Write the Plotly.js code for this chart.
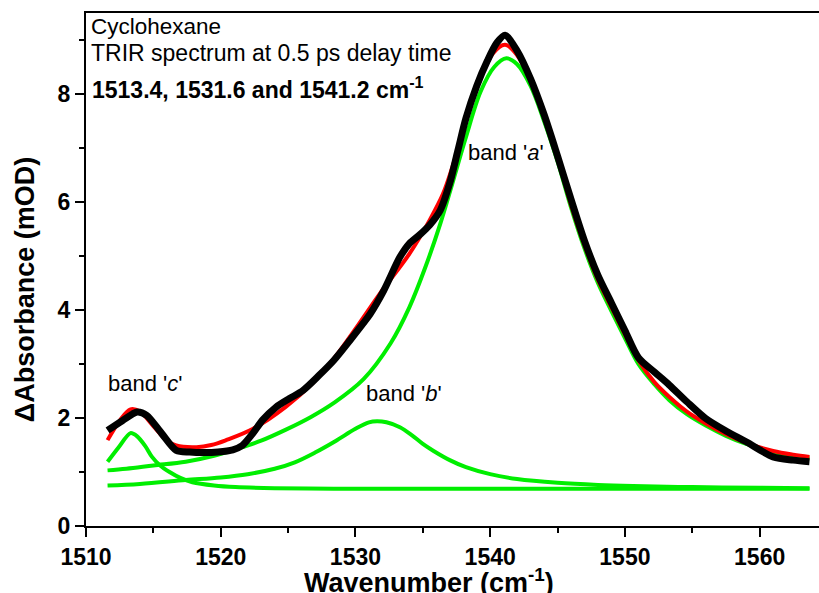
<!DOCTYPE html>
<html>
<head>
<meta charset="utf-8">
<script src="https://cdn.plot.ly/plotly-3.0.1.min.js"></script>
<style>
  html, body { margin: 0; padding: 0; overflow: hidden; background: #fff; }
  #chart { width: 840px; height: 593px; }
</style>
</head>
<body>
<div id="chart"></div>
<script>
// ---- Data ----
// Measured TRIR spectrum (black)
const dataX = [1511.6, 1512.7, 1513.8, 1514.5, 1515.6, 1516.7, 1517.7, 1518.7, 1519.8, 1520.9, 1521.6, 1522.4, 1523.1, 1524.1, 1525.1, 1526.1, 1527.3, 1528.4, 1529.6, 1530.6, 1531.1, 1532.1, 1533.3, 1534.0, 1534.8, 1535.5, 1536.3, 1537.0, 1537.6, 1538.2, 1539.0, 1539.8, 1540.5, 1541.1, 1542.0, 1543.0, 1544.0, 1545.0, 1546.0, 1547.0, 1548.0, 1549.0, 1550.0, 1551.0, 1552.2, 1553.3, 1554.6, 1556.0, 1557.5, 1559.0, 1561.0, 1562.5, 1563.7];
const dataY = [1.77, 1.95, 2.11, 2.05, 1.72, 1.40, 1.37, 1.36, 1.37, 1.41, 1.49, 1.72, 1.96, 2.20, 2.36, 2.51, 2.79, 3.07, 3.44, 3.76, 3.93, 4.36, 4.98, 5.23, 5.40, 5.57, 5.85, 6.35, 6.95, 7.55, 8.15, 8.62, 8.95, 9.09, 8.80, 8.28, 7.62, 6.85, 6.05, 5.28, 4.64, 4.13, 3.62, 3.12, 2.85, 2.61, 2.30, 1.99, 1.76, 1.56, 1.28, 1.22, 1.19];

// Total fit (red)
const fitX = [1511.6, 1512.5, 1513.3, 1514.0, 1515.0, 1516.0, 1516.7, 1518.2, 1519.3, 1520.4, 1522.4, 1524.8, 1526.8, 1528.4, 1530.0, 1531.8, 1534.0, 1535.5, 1536.5, 1537.2, 1538.2, 1539.2, 1540.2, 1541.1, 1542.0, 1543.0, 1544.0, 1545.0, 1546.0, 1547.0, 1548.0, 1549.0, 1550.0, 1551.0, 1552.2, 1553.3, 1554.6, 1556.0, 1557.5, 1559.0, 1561.0, 1562.5, 1563.7];
const fitY = [1.59, 1.95, 2.16, 2.12, 1.85, 1.58, 1.49, 1.46, 1.50, 1.59, 1.80, 2.20, 2.64, 3.10, 3.65, 4.30, 5.04, 5.66, 6.15, 6.65, 7.50, 8.25, 8.75, 8.91, 8.72, 8.25, 7.60, 6.82, 5.95, 5.20, 4.56, 4.05, 3.55, 3.07, 2.66, 2.39, 2.12, 1.90, 1.70, 1.54, 1.39, 1.32, 1.28];

// Band 'a' (green, 1541.2)
const bandAX = [1511.6, 1513.0, 1515.0, 1517.4, 1519.5, 1521.1, 1523.0, 1524.8, 1526.7, 1528.4, 1530.6, 1532.6, 1534.0, 1535.2, 1536.3, 1537.2, 1538.2, 1539.3, 1540.3, 1541.2, 1542.0, 1543.0, 1544.0, 1545.0, 1546.0, 1547.0, 1548.0, 1549.0, 1550.0, 1551.0, 1552.2, 1553.3, 1554.6, 1556.0, 1557.5, 1559.0, 1561.0, 1562.5, 1563.7];
const bandAY = [1.03, 1.06, 1.12, 1.19, 1.30, 1.42, 1.58, 1.78, 2.02, 2.28, 2.72, 3.38, 4.05, 4.80, 5.60, 6.35, 7.20, 8.05, 8.50, 8.66, 8.55, 8.15, 7.50, 6.75, 5.90, 5.14, 4.50, 3.98, 3.48, 3.00, 2.62, 2.33, 2.07, 1.86, 1.67, 1.52, 1.37, 1.30, 1.25];

// Band 'b' (green, 1531.6)
const bandBX = [1511.6, 1514.0, 1517.4, 1520.0, 1522.0, 1524.0, 1525.5, 1527.0, 1528.5, 1530.0, 1531.0, 1531.6, 1532.3, 1533.3, 1534.2, 1535.0, 1535.8, 1537.0, 1538.2, 1540.0, 1542.0, 1545.0, 1548.0, 1550.6, 1555.0, 1560.0, 1563.7];
const bandBY = [0.75, 0.78, 0.85, 0.90, 0.96, 1.06, 1.18, 1.36, 1.57, 1.80, 1.92, 1.94, 1.92, 1.83, 1.68, 1.52, 1.39, 1.22, 1.09, 0.96, 0.87, 0.80, 0.76, 0.74, 0.72, 0.71, 0.70];

// Band 'c' (green, 1513.4)
const bandCX = [1511.6, 1512.4, 1513.3, 1513.8, 1514.4, 1514.9, 1515.5, 1516.2, 1517.0, 1517.9, 1519.5, 1521.1, 1524.0, 1528.4, 1535.0, 1545.0, 1555.0, 1563.7];
const bandCY = [1.19, 1.45, 1.72, 1.66, 1.48, 1.28, 1.12, 1.00, 0.89, 0.81, 0.75, 0.72, 0.70, 0.69, 0.69, 0.69, 0.69, 0.69];

// Axis ticks
const xTickVals = [1510, 1520, 1530, 1540, 1550, 1560];
const xTickText = ['1510', '1520', '1530', '1540', '1550', '1560'];
const yTickVals = [0, 2, 4, 6, 8];
const yTickText = ['0', '2', '4', '6', '8'];

// ---- Chart ----
const FONT = 'Arial, "Liberation Sans", sans-serif';
const GREEN = '#00ee00';

const traces = [
  { x: bandCX, y: bandCY, mode: 'lines', line: { color: GREEN, width: 4, shape: 'spline', smoothing: 0.8 }, hoverinfo: 'skip' },
  { x: bandBX, y: bandBY, mode: 'lines', line: { color: GREEN, width: 4, shape: 'spline', smoothing: 1 }, hoverinfo: 'skip' },
  { x: bandAX, y: bandAY, mode: 'lines', line: { color: GREEN, width: 4, shape: 'spline', smoothing: 1 }, hoverinfo: 'skip' },
  { x: fitX, y: fitY, mode: 'lines', line: { color: '#ff0000', width: 4, shape: 'spline', smoothing: 1 }, hoverinfo: 'skip' },
  { x: dataX, y: dataY, mode: 'lines', line: { color: '#000000', width: 7, shape: 'spline', smoothing: 0.8 }, hoverinfo: 'skip' }
];

const axisCommon = {
  showgrid: false, zeroline: false,
  showline: true, linecolor: '#000', linewidth: 2, mirror: true,
  ticks: 'outside', ticklen: 9, tickwidth: 2, tickcolor: '#000',
  tickfont: { family: FONT, size: 23, color: '#000', weight: 'bold' },
  tickmode: 'array'
};

const layout = {
  width: 840, height: 593,
  margin: { l: 86, r: 13, t: 13, b: 67 },
  paper_bgcolor: '#fff', plot_bgcolor: '#fff',
  showlegend: false,
  font: { family: FONT, color: '#000' },
  xaxis: Object.assign({}, axisCommon, {
    range: [1510, 1565], tickvals: xTickVals, ticktext: xTickText,
    minor: { dtick: 5, tick0: 1510, ticks: 'outside', ticklen: 5, tickwidth: 2, tickcolor: '#000' }
  }),
  yaxis: Object.assign({}, axisCommon, {
    range: [0, 9.5], tickvals: yTickVals, ticktext: yTickText,
    minor: { dtick: 1, tick0: 0, ticks: 'outside', ticklen: 5, tickwidth: 2, tickcolor: '#000' }
  }),
  annotations: [
    { xref: 'paper', yref: 'paper', x: 0.463, y: -0.071, xanchor: 'center', yanchor: 'top', showarrow: false,
      text: 'Wavenumber (cm<sup>-1</sup>)', font: { family: FONT, size: 27, weight: 'bold', color: '#000' } },
    { xref: 'paper', yref: 'paper', x: -0.082, y: 0.46, xanchor: 'center', yanchor: 'middle', showarrow: false, textangle: -90,
      text: '\u0394Absorbance (mOD)', font: { family: FONT, size: 27, weight: 'bold', color: '#000' } },
    { xref: 'paper', yref: 'paper', x: 0.004, y: 0.974, xanchor: 'left', yanchor: 'middle', showarrow: false,
      text: 'Cyclohexane', font: { family: FONT, size: 22.5, color: '#000' } },
    { xref: 'paper', yref: 'paper', x: 0.004, y: 0.923, xanchor: 'left', yanchor: 'middle', showarrow: false,
      text: 'TRIR spectrum at 0.5 ps delay time', font: { family: FONT, size: 23, color: '#000' } },
    { xref: 'paper', yref: 'paper', x: 0.006, y: 0.853, xanchor: 'left', yanchor: 'middle', showarrow: false,
      text: '1513.4, 1531.6 and 1541.2 cm<sup>-1</sup>', font: { family: FONT, size: 23, weight: 'bold', color: '#000' } },
    { xref: 'x', yref: 'y', x: 1538.2, y: 6.92, xanchor: 'left', yanchor: 'middle', showarrow: false,
      text: "band '<i>a</i>'", font: { family: FONT, size: 22, color: '#000' } },
    { xref: 'x', yref: 'y', x: 1530.6, y: 2.46, xanchor: 'left', yanchor: 'middle', showarrow: false,
      text: "band '<i>b</i>'", font: { family: FONT, size: 22, color: '#000' } },
    { xref: 'x', yref: 'y', x: 1511.5, y: 2.64, xanchor: 'left', yanchor: 'middle', showarrow: false,
      text: "band '<i>c</i>'", font: { family: FONT, size: 22, color: '#000' } }
  ]
};

Plotly.newPlot('chart', traces, layout, { displayModeBar: false, staticPlot: true });
</script>
</body>
</html>
